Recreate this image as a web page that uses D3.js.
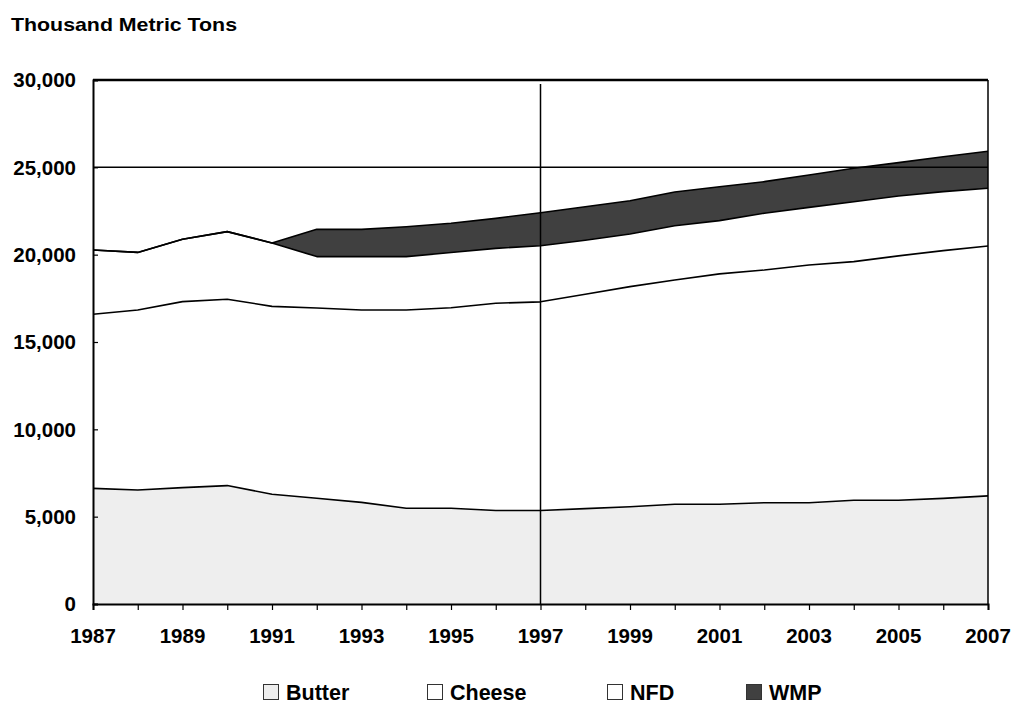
<!DOCTYPE html>
<html><head><meta charset="utf-8">
<script src="https://cdn.jsdelivr.net/npm/d3@7/dist/d3.min.js"></script>
<style>
html,body{margin:0;padding:0;background:#fff;}
svg{display:block;}
text{font-family:Arial,"Liberation Sans",sans-serif;font-weight:bold;fill:#000;}
</style></head>
<body><svg id="chart" width="1014" height="704"></svg>
<script>
const years = d3.range(1987, 2008);
const seriesNames = ["Butter", "Cheese", "NFD", "WMP"];
const butter = [6620, 6530, 6660, 6780, 6280, 6050, 5820, 5480, 5480, 5350, 5350, 5460, 5570, 5710, 5710, 5800, 5800, 5940, 5940, 6050, 6190];
const cheese = [9970, 10300, 10650, 10670, 10760, 10900, 11010, 11350, 11480, 11870, 11950, 12270, 12600, 12840, 13190, 13320, 13610, 13660, 13990, 14180, 14310];
const nfd = [3680, 3300, 3570, 3870, 3630, 2940, 3060, 3060, 3160, 3140, 3210, 3100, 3010, 3110, 3050, 3250, 3300, 3430, 3430, 3380, 3300];
const wmp = [0, 0, 0, 0, 0, 1560, 1560, 1710, 1680, 1720, 1890, 1910, 1910, 1930, 1940, 1810, 1850, 1920, 1910, 2000, 2120];
const yTicks = [0, 5000, 10000, 15000, 20000, 25000, 30000];
const xLabelYears = [1987, 1989, 1991, 1993, 1995, 1997, 1999, 2001, 2003, 2005, 2007];
const colors = {Butter: "#eeeeee", Cheese: "#ffffff", NFD: "#ffffff", WMP: "#404040"};

const table = years.map((y, i) => ({year: y, Butter: butter[i], Cheese: cheese[i], NFD: nfd[i], WMP: wmp[i]}));
const stacked = d3.stack().keys(seriesNames)(table);

const svg = d3.select("#chart");
const L = 93, R = 988, T = 80, B = 604;
const x = d3.scaleLinear().domain([1987, 2007]).range([L, R]);
const y = d3.scaleLinear().domain([0, 30000]).range([B, T]);

// title
svg.append("text").attr("x", 11).attr("y", 31).style("font-size", "18.5px")
  .attr("textLength", 226).attr("lengthAdjust", "spacingAndGlyphs")
  .text("Thousand Metric Tons");

// areas
const area = d3.area().x(d => x(d.data.year)).y0(d => y(d[0])).y1(d => y(d[1]));
const topLine = d3.line().x(d => x(d.data.year)).y(d => y(d[1]));
svg.append("g").selectAll("path").data(stacked).join("path")
  .attr("d", area).attr("fill", d => colors[d.key]).attr("stroke", "none");

// gridline 25000 and vertical line at 1997
svg.append("line").attr("x1", L).attr("x2", R).attr("y1", y(25000)).attr("y2", y(25000))
  .attr("stroke", "#000").attr("stroke-width", 1.5);
svg.append("line").attr("x1", x(1997)).attr("x2", x(1997)).attr("y1", T + 4).attr("y2", B)
  .attr("stroke", "#000").attr("stroke-width", 1.5);

// top lines
svg.append("g").selectAll("path").data(stacked).join("path")
  .attr("d", topLine).attr("fill", "none").attr("stroke", "#000").attr("stroke-width", 1.6)
  .attr("stroke-linejoin", "round");

// frame
svg.append("line").attr("x1", L).attr("x2", R).attr("y1", T).attr("y2", T).attr("stroke", "#000").attr("stroke-width", 2.5);
svg.append("line").attr("x1", R).attr("x2", R).attr("y1", T).attr("y2", B).attr("stroke", "#000").attr("stroke-width", 1.5);

// y axis
const yAxis = d3.axisRight(y).tickValues(yTicks).tickSize(5).tickFormat("");
const gy = svg.append("g").attr("transform", `translate(${L},0)`).call(yAxis);
gy.select(".domain").attr("stroke-width", 2);
gy.selectAll(".tick line").attr("stroke-width", 1.2);
svg.append("g").selectAll("text").data(yTicks).join("text")
  .attr("x", 76).attr("y", d => y(d)).attr("dy", "0.36em").attr("text-anchor", "end")
  .style("font-size", "20.5px").text(d => d3.format(",")(d));

// x axis
const xAxis = d3.axisBottom(x).tickValues(years).tickSize(6).tickFormat("");
const gx = svg.append("g").attr("transform", `translate(0,${B})`).call(xAxis);
gx.select(".domain").attr("stroke-width", 2);
gx.selectAll(".tick line").attr("stroke-width", 1.2);
svg.append("g").selectAll("text").data(xLabelYears).join("text")
  .attr("x", d => x(d)).attr("y", 643).attr("text-anchor", "middle")
  .style("font-size", "20.5px").text(d => d);

// legend
const legendX = [263, 427, 607, 746];
const lg = svg.append("g").selectAll("g").data(seriesNames).join("g")
  .attr("transform", (d, i) => `translate(${legendX[i]},684)`);
lg.append("rect").attr("x", 0.5).attr("y", 0.5).attr("width", 15).attr("height", 15)
  .attr("fill", d => colors[d]).attr("stroke", "#333").attr("stroke-width", 1);
lg.append("text").attr("x", 23).attr("y", 15.5).style("font-size", "21.5px").text(d => d);
</script></body></html>
